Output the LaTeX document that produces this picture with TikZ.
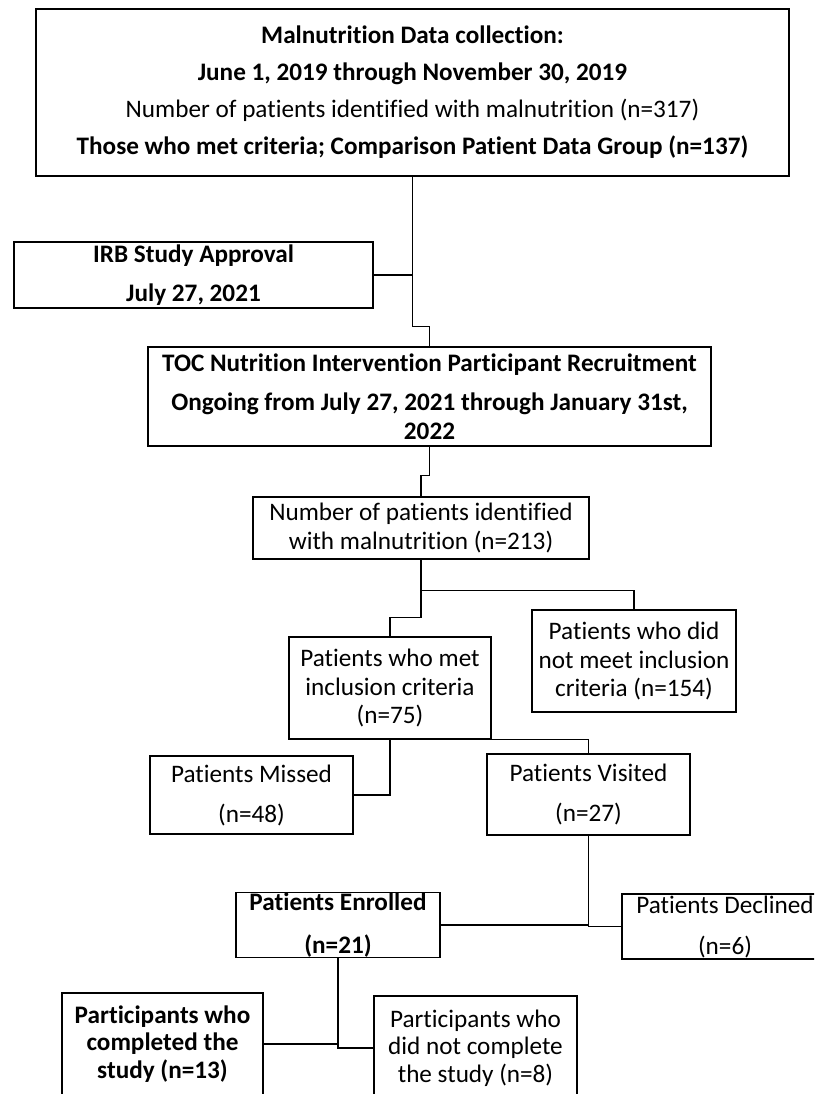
\documentclass[tikz,border=0pt]{standalone}
\usepackage{fontspec}
\setmainfont{Carlito}[Ligatures=NoCommon]
\begin{document}
\begin{tikzpicture}[x=1pt, y=-1pt,
  box/.style={draw=black, line width=1.2pt, rectangle, inner sep=0pt,
    align=center, font=\fontsize{25.2}{28.5}\selectfont},
  link/.style={draw=black, line width=1.2pt}]
  \useasboundingbox (0,0) rectangle (814,1094);
  \fill[white] (0,0) rectangle (814,1094);
  \clip (0,0) rectangle (814,1094);

  % study phases
  \node[box, minimum width=753pt, minimum height=167pt] (top) at (412.5,92.5)
    {\textbf{Malnutrition Data collection:}\\[8.5pt]
     \textbf{June 1, 2019 through November 30, 2019}\\[8.5pt]
     Number of patients identified with malnutrition (n=317)\\[8.5pt]
     \textbf{Those who met criteria; Comparison Patient Data Group (n=137)}};
  \node[box, minimum width=359pt, minimum height=66pt] (irb) at (193.5,275)
    {\textbf{IRB Study Approval}\\[10.5pt]\textbf{July 27, 2021}};
  \node[box, minimum width=563pt, minimum height=99pt] (toc) at (429.5,396.5)
    {\textbf{TOC Nutrition Intervention Participant Recruitment}\\[10.5pt]
     \textbf{Ongoing from July 27, 2021 through January 31st,}\\
     \textbf{2022}};

  % screening
  \node[box, minimum width=336pt, minimum height=62pt] (num) at (421,528)
    {Number of patients identified\\with malnutrition (n=213)};
  \node[box, minimum width=202pt, minimum height=102pt] (met) at (390,688)
    {Patients who met\\inclusion criteria\\(n=75)};
  \node[box, minimum width=204pt, minimum height=102pt] (notmet) at (634,661)
    {Patients who did\\not meet inclusion\\criteria (n=154)};

  % visits
  \node[box, minimum width=203pt, minimum height=78pt] (missed) at (251.5,795)
    {Patients Missed\\[11.5pt](n=48)};
  \node[box, minimum width=203pt, minimum height=81pt] (visited) at (588.5,794.5)
    {Patients Visited\\[11.5pt](n=27)};

  % enrollment
  \node[box, minimum width=204pt, minimum height=64pt] (enr) at (338,925)
    {\textbf{Patients Enrolled}\\[14.5pt]\textbf{(n=21)}};
  \node[box, minimum width=206pt, minimum height=65pt] (decl) at (725,926.5)
    {Patients Declined\\[12.5pt](n=6)};

  % completion
  \node[box, minimum width=201pt, minimum height=102pt] (comp) at (162.5,1044)
    {\textbf{Participants who}\\[-1pt]\textbf{completed the}\\[-1pt]\textbf{study (n=13)}};
  \node[box, minimum width=203pt, minimum height=104pt] (dnc) at (475.5,1048)
    {Participants who\\[-1pt]did not complete\\[-1pt]the study (n=8)};

  % connectors
  \draw[link] (top.south) -- ++(0,150) -| (toc.north);
  \draw[link] (irb.east) -- (irb.east -| top.south);
  \draw[link] (toc.south) -- ++(0,29) -| (num.north);
  \draw[link] (num.south) -- ++(0,58) -| (met.north);
  \draw[link] (num.south) -- ++(0,31) -| (notmet.north);
  \draw[link] (met.south east) -| (visited.north);
  \draw[link] (met.south) |- (missed.east);
  \draw[link] (visited.south) |- (enr.east);
  \draw[link] (visited.south) |- (decl.west);
  \draw[link] (enr.south) |- (comp.east);
  \draw[link] (enr.south) |- (dnc.west);
\end{tikzpicture}
\end{document}
